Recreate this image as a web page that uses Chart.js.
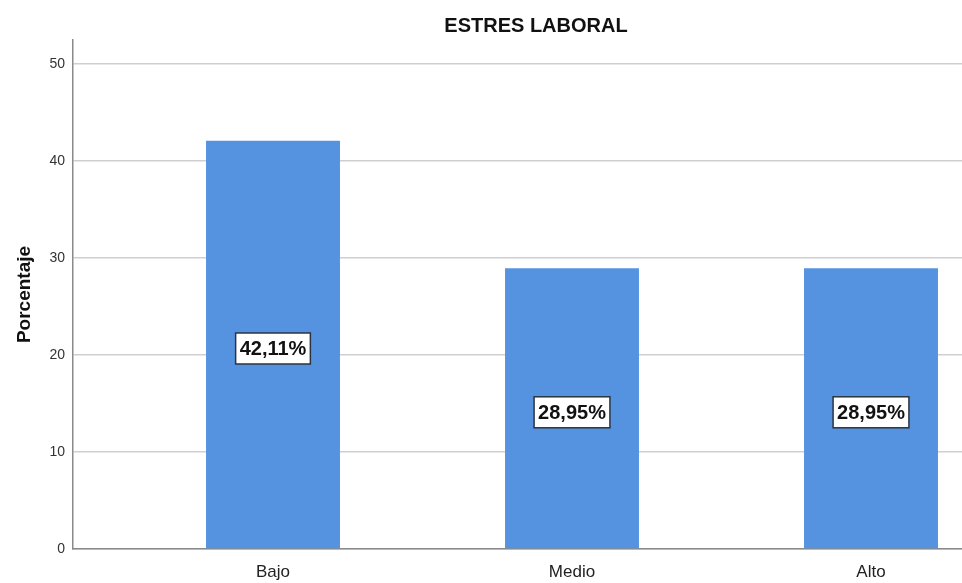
<!DOCTYPE html>
<html>
<head>
<meta charset="utf-8">
<script src="https://cdn.jsdelivr.net/npm/chart.js@4/dist/chart.umd.min.js"></script>
<style>
html,body{margin:0;padding:0;background:#fff;}
#wrap{width:962px;height:583px;}
</style>
</head>
<body>
<div id="wrap"><canvas id="c" width="962" height="583"></canvas></div>
<script>
const chartTitle = 'ESTRES LABORAL';
const yAxisTitle = 'Porcentaje';
const categories = ['Bajo', 'Medio', 'Alto'];
const percentages = [42.11, 28.95, 28.95];
const yTicks = [0, 10, 20, 30, 40, 50];

const points = categories.map((c, i) => ({ x: i + 1, y: percentages[i] }));

const titlePlugin = {
  id: 'customTitle',
  afterDraw(chart) {
    const ctx = chart.ctx;
    ctx.save();
    ctx.font = 'bold 20px "Liberation Sans", Arial, sans-serif';
    ctx.fillStyle = '#111';
    ctx.textAlign = 'center';
    ctx.textBaseline = 'middle';
    ctx.fillText(chartTitle, 536, 26);
    ctx.restore();
  }
};

const valueLabels = {
  id: 'valueLabels',
  afterDatasetsDraw(chart) {
    const ctx = chart.ctx;
    const meta = chart.getDatasetMeta(0);
    ctx.save();
    ctx.font = 'bold 20px "Liberation Sans", Arial, sans-serif';
    ctx.textAlign = 'center';
    ctx.textBaseline = 'middle';
    meta.data.forEach((el, i) => {
      const txt = percentages[i].toFixed(2).replace('.', ',') + '%';
      const cx = el.x;
      const cy = (el.y + el.base) / 2 + 4;
      const w = ctx.measureText(txt).width + 8;
      const h = 31;
      ctx.fillStyle = '#ffffff';
      ctx.fillRect(cx - w / 2, cy - h / 2, w, h);
      ctx.strokeStyle = '#2a3440';
      ctx.lineWidth = 1.5;
      ctx.strokeRect(cx - w / 2, cy - h / 2, w, h);
      ctx.fillStyle = '#111';
      ctx.fillText(txt, cx, cy + 1);
    });
    ctx.restore();
  }
};

new Chart(document.getElementById('c'), {
  type: 'bar',
  data: {
    datasets: [{
      data: points,
      backgroundColor: '#5593e1',
      borderWidth: 0,
      barPercentage: 0.448,
      categoryPercentage: 1
    }]
  },
  options: {
    responsive: false,
    animation: false,
    devicePixelRatio: 1,
    layout: { padding: { top: 40, right: 0, left: 0, bottom: 0 } },
    plugins: { legend: { display: false }, tooltip: { enabled: false }, title: { display: false } },
    scales: {
      x: {
        type: 'linear',
        min: 1 - 200 / 299,
        max: 3 + 91 / 299,
        offset: false,
        grid: { display: false, drawTicks: false },
        border: { display: true, color: '#8a8a8a', width: 1.5 },
        afterBuildTicks(scale) { scale.ticks = categories.map((c, i) => ({ value: i + 1 })); },
        afterFit(scale) { scale.height = 34; },
        ticks: {
          autoSkip: false,
          maxRotation: 0,
          padding: 13,
          color: '#222',
          font: { family: '"Liberation Sans", Arial, sans-serif', size: 17 },
          callback: (v) => categories[Math.round(v) - 1] || ''
        }
      },
      y: {
        min: 0,
        max: 52.5,
        grid: { color: '#cfcfcf', lineWidth: 1.5, drawTicks: false },
        border: { display: true, color: '#8a8a8a', width: 1.5 },
        afterBuildTicks(scale) { scale.ticks = yTicks.map(v => ({ value: v })); },
        afterFit(scale) { scale.width = 73; },
        title: {
          display: true,
          text: yAxisTitle,
          color: '#111',
          font: { family: '"Liberation Sans", Arial, sans-serif', size: 19, weight: 'bold' },
          padding: { top: 13, bottom: 0 }
        },
        ticks: {
          padding: 8,
          color: '#333',
          font: { family: '"Liberation Sans", Arial, sans-serif', size: 14 }
        }
      }
    }
  },
  plugins: [titlePlugin, valueLabels]
});
</script>
</body>
</html>
